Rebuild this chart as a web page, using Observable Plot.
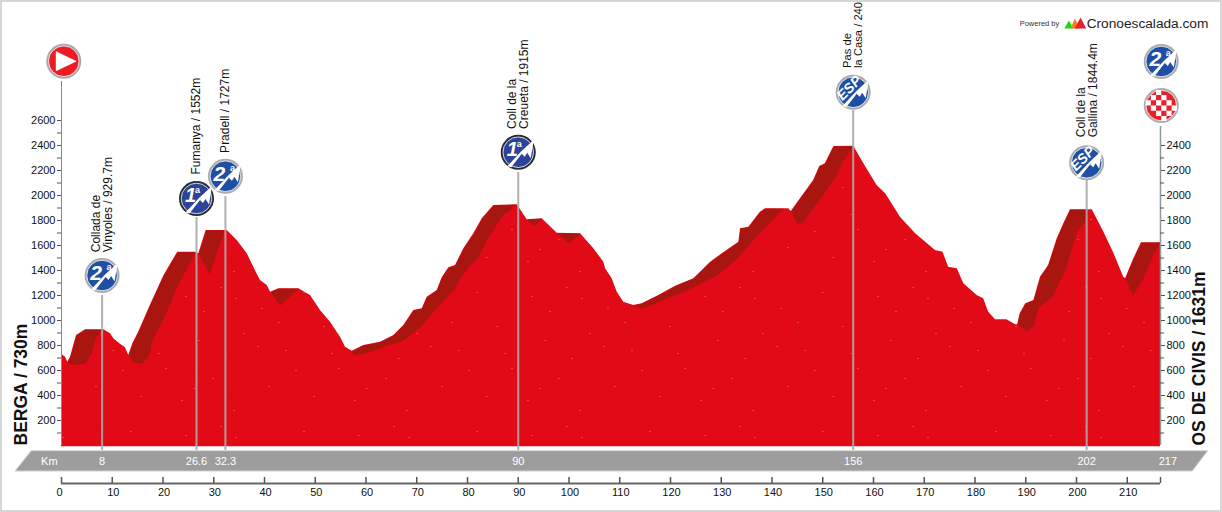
<!DOCTYPE html>
<html><head><meta charset="utf-8">
<style>html,body{margin:0;padding:0;background:#fff}</style>
<script src="https://cdn.jsdelivr.net/npm/d3@7"></script>
<script src="https://cdn.jsdelivr.net/npm/@observablehq/plot@0.6"></script>
</head><body>
<script>
const FONT = "'Liberation Sans', Arial, sans-serif";
// Elevation profile (km, metres)
const profileKm = [0,0.8,1.24,1.77,2.96,4.73,8.33,9.66,10.3,11.5,12.6,13.26,14.05,15.2,17.5,20.2,22.9,26.4,27.05,28.5,32.65,34.62,36.6,38.2,39.2,40.53,41.2,42.82,46.76,49.06,51.03,53,54.97,55.96,57.28,59.57,62.86,65.48,67.45,69.42,71.07,72.06,74.03,75.01,76.32,77.64,79.27,81.24,82.9,85.18,89.8,91.76,94.72,97.68,102.27,104.89,106.86,107.2,108.5,109.5,110.8,112.77,114.4,117.7,120.99,124.6,127.9,130.2,133.46,133.8,135.43,137.7,138.7,143.3,143.8,145.6,148.2,149.4,150.5,152.2,156.1,158.1,160.7,162.4,165.3,168.3,172.2,173.7,174.8,176.5,177.8,180.4,181.7,182.7,184.05,186.3,188,188.4,188.9,190,191.6,192.9,194.5,196.2,197.5,198.8,203.1,205.4,207.4,209.3,209.66,211.3,212.8,216.55];
const profileElev = [730,706,666,706,880,926,926,894,854,814,782,720,814,906,1120,1360,1546,1546,1534,1720,1720,1640,1534,1400,1320,1280,1226,1254,1254,1200,1080,986,866,786,754,800,826,880,960,1080,1094,1186,1240,1342,1422,1440,1574,1694,1814,1920,1926,1806,1814,1698,1694,1574,1466,1414,1334,1226,1146,1120,1134,1200,1274,1334,1466,1534,1626,1734,1746,1866,1894,1894,1872,1974,2120,2232,2254,2392,2394,2254,2080,2014,1826,1694,1560,1546,1426,1414,1294,1200,1174,1066,1006,1006,966,966,1054,1134,1160,1346,1440,1654,1774,1886,1886,1706,1534,1346,1334,1494,1622,1622];
// Lower edges of the dark climb shading: [km, metres]; the upper edge follows the profile
const climbEdge1 = [[1.24,654],[2.76,646],[4.73,654],[6.05,746],[6.7,854],[8.02,926]];
const climbEdge2 = [[13.26,720],[14.13,666],[15.9,654],[17.54,734],[17.67,814],[20.16,1014],[22.8,1266],[26.07,1520],[26.4,1546]];
const climbEdge3 = [[27.05,1534],[29.16,1368],[32.18,1720]];
const climbEdge4 = [[41.2,1226],[43.15,1120],[44.14,1160],[46.76,1254]];
const climbEdge5 = [[57.28,754],[57.6,720],[60.9,746],[64.18,800],[66.8,826],[68.77,880],[70.74,946],[72.7,1040],[75,1146],[77.3,1240],[78.6,1334],[80.26,1426],[82.2,1506],[84.2,1666],[86.5,1814],[89.46,1926]];
const climbEdge6 = [[91.76,1806],[93.07,1752],[94.72,1814]];
const climbEdge7 = [[97.68,1698],[99.96,1618],[102.27,1694]];
const climbEdge8 = [[112.77,1120],[114.4,1094],[119.35,1174],[124.6,1266],[129.2,1360],[133.14,1494],[137.7,1706],[140.4,1814],[142.3,1894]];
const climbEdge9 = [[143.8,1872],[144.96,1774],[145.95,1778],[148.9,1934],[152.5,2146],[154.1,2280],[156.1,2394]];
const climbEdge10 = [[188.4,966],[190.3,912],[191.6,960],[192.6,1106],[195.2,1186],[197.8,1400],[200.1,1706],[202.1,1814],[202.2,1886]];
const climbEdge11 = [[209.66,1334],[211.1,1200],[213,1320],[215.26,1534],[216.55,1622]];
const climbEdges = [climbEdge1,climbEdge2,climbEdge3,climbEdge4,climbEdge5,climbEdge6,climbEdge7,climbEdge8,climbEdge9,climbEdge10,climbEdge11];
// Passes
const passKm = [8,26.6,32.3,90,156,202];
const passPoleTop = [1200,1824,1992,2184,2680,2120];
const passNames = ["Collada de\nVinyoles / 929.7m","Fumanya / 1552m","Pradell / 1727m","Coll de la\nCreueta / 1915m","Pas de\nla Casa / 240","Coll de la\nGallina / 1844.4m"];
const passNameBase = [1546,2168,2341,2533,3021,2466];
const passNameSize = [12,12,12,12,11.2,12];
const passBadgeElev = [1360,1976,2154,2346,2826,2262];
const passCategory = ["2ª","1ª","2ª","1ª","ESP","ESP"];
// Kilometre band
const bandLabels = ["8","26.6","32.3","90","156","202","217"];
const bandKm = [8,26.6,32.3,90,156,202,218];
const kmTicks = d3.range(0,220,10);
const endKm = 216.55;
const leftMajor = d3.range(200,2700,200);
const leftMinor = d3.range(100,2600,200);
const rightMajor = d3.range(200,2500,200);
const rightMinor = d3.range(100,2400,200);
// Credit logo peaks
const logoPeaks = [
  {id:"g",fill:"#18d818",km:[197.6,198.5,199.4],elev:[3336,3400,3336]},
  {id:"o",fill:"#f58220",km:[198.8,199.7,200.6],elev:[3336,3416,3336]},
  {id:"r",fill:"#e8202c",km:[199.6,200.8,201.9],elev:[3336,3424,3336]}
];

const profile = profileKm.map((km,i)=>({km,elev:profileElev[i]}));
const climbs = climbEdges.flatMap((edge,id)=>{
  const a = edge[0][0], b = edge[edge.length-1][0];
  const top = profile.filter(d=>d.km>=a && d.km<=b).map(d=>({id,km:d.km,elev:d.elev}));
  const low = edge.map(([km,elev])=>({id,km,elev})).reverse();
  return [...top,...low];
});
const passes = passKm.map((km,i)=>({km,top:passPoleTop[i],name:passNames[i],base:passNameBase[i],size:passNameSize[i],badge:passBadgeElev[i],cat:passCategory[i]}));
const bandShape = [{elev:-48,a:-5.9,b:225.9},{elev:-208,a:-9.06,b:222.9}];
const logoRows = logoPeaks.flatMap(p=>p.km.map((km,i)=>({id:p.id,fill:p.fill,km,elev:p.elev[i]})));

const mountain = {draw(c){
  c.moveTo(-11,14);c.lineTo(3,-1);c.lineTo(15.5,-12.5);c.lineTo(12.5,6);c.lineTo(9,0.5);c.lineTo(6.5,4.5);c.lineTo(3.5,1.5);c.lineTo(-7,15);c.closePath();
}};
const playArrow = {draw(c){c.moveTo(-8,-10);c.lineTo(13,0);c.lineTo(-8,10);c.closePath();}};
const checker = {draw(c){
  const s=5.2;
  for(let i=-3;i<=2;i++)for(let j=-3;j<=2;j++){
    if((i+j+6)%2) continue;
    const x=i*s,y=j*s;
    if(Math.hypot(x+s/2,y+s/2)>14) continue;
    c.moveTo(x,y);c.lineTo(x+s,y);c.lineTo(x+s,y+s);c.lineTo(x,y+s);c.closePath();
  }
}};
const ringColor = d=>d.cat==="1ª"?"#2a2a2a":"#ababab";
const discColor = d=>d.cat==="1ª"?"#2c439c":"#1f4fa5";

const svg = Plot.plot({
  width:1222,height:512,
  marginLeft:61,marginRight:62,marginTop:0,marginBottom:29,
  x:{domain:[0,endKm],range:[61,1160],axis:null},
  y:{domain:[0,2600],range:[445,120]},
  style:{fontFamily:FONT,fontSize:"11px",color:"#111",background:"#fff",outline:"2px solid #d6d6d6",outlineOffset:"-2px",overflow:"hidden"},
  marks:[
    // gray km band
    Plot.areaX(bandShape,{y:"elev",x1:"a",x2:"b",fill:"#9d9d9d",stroke:"#cfcfcf",strokeWidth:1}),
    // profile
    Plot.areaY(profile,{x:"km",y1:()=>-10,y2:"elev",fill:"url(#speck)"}),
    Plot.line(climbs,{x:"km",y:"elev",z:"id",fill:"#a8160f",stroke:"none"}),
    // vertical axes lines
    Plot.ruleX([0],{y1:0,y2:2912,stroke:"#8a8a8a",strokeWidth:1}),
    Plot.ruleX([endKm],{y1:0,y2:2552,stroke:"#8f9a9a",strokeWidth:1.5}),
    Plot.axisY({anchor:"left",ticks:leftMajor,tickFormat:"d",tickSize:4,tickPadding:2,label:null,fontSize:11,stroke:"#555",color:"#111"}),
    Plot.axisY({anchor:"right",ticks:rightMajor,tickFormat:"d",tickSize:4,tickPadding:2,label:null,fontSize:11,stroke:"#555",color:"#111"}),
    Plot.ruleY(leftMinor,{x1:-0.8,x2:0,stroke:"#555"}),
    Plot.ruleY(rightMinor,{x1:endKm,x2:endKm+0.8,stroke:"#555"}),
    // poles
    Plot.ruleX(passes,{x:"km",y1:-40,y2:"top",stroke:"#a9a9a9",strokeWidth:2,strokeOpacity:0.92}),
    // band labels
    Plot.text(["Km"],{x:()=>-2.4,y:()=>-128,text:d=>d,fill:"#fff",fontSize:11}),
    Plot.text(bandLabels,{x:(d,i)=>bandKm[i],y:()=>-128,text:d=>d,fill:"#fff",fontSize:11}),
    // bottom km axis
    Plot.ruleY([-304],{x1:0,x2:endKm,stroke:"#666",strokeWidth:2}),
    Plot.ruleX([...kmTicks,endKm],{y1:-304,y2:-256,stroke:"#555",strokeWidth:1.5}),
    Plot.text(kmTicks.slice(0,1),{x:d=>d,y:()=>-376,text:d=>String(d),dx:-2,fontSize:11,fill:"#111"}),
    Plot.text(kmTicks.slice(1),{x:d=>d,y:()=>-376,text:d=>String(d),dx:1,fontSize:11,fill:"#111"}),
    // place titles
    Plot.text(["BERGA / 730m"],{x:()=>-8,y:()=>0,text:d=>d,rotate:-90,textAnchor:"start",fontSize:17.5,fontWeight:"bold",fill:"#111"}),
    Plot.text(["OS DE CIVIS / 1631m"],{x:()=>224.3,y:()=>0,text:d=>d,rotate:-90,textAnchor:"start",fontSize:17.5,fontWeight:"bold",fill:"#111"}),
    // pass names
    Plot.text(passes,{x:"km",y:"base",text:"name",rotate:-90,textAnchor:"start",lineAnchor:"middle",fontSize:"size",lineHeight:1,fill:"#111"}),
    // pass badges
    Plot.dot(passes,{x:"km",y:"badge",r:17.5,fill:ringColor,stroke:"none"}),
    Plot.dot(passes,{x:"km",y:"badge",r:15.3,fill:discColor,stroke:"#fff",strokeWidth:0.8}),
    Plot.dot(passes,{x:"km",y:"badge",r:1,symbol:mountain,fill:"#fff",stroke:"none"}),
    Plot.text(passes.filter(d=>d.cat==="2ª"),{x:"km",y:"badge",text:()=>"2",dx:-6,dy:-2,fontSize:21,fontWeight:"bold",fontStyle:"italic",fill:"#fff"}),
    Plot.text(passes.filter(d=>d.cat==="2ª"),{x:"km",y:"badge",text:()=>"a",dx:7,dy:-8,fontSize:9,fontWeight:"bold",fill:"#fff"}),
    Plot.text(passes.filter(d=>d.cat==="1ª"),{x:"km",y:"badge",text:()=>"1",dx:-6,dy:-3,fontSize:20,fontWeight:"bold",fontStyle:"italic",fill:"#fff"}),
    Plot.text(passes.filter(d=>d.cat==="1ª"),{x:"km",y:"badge",text:()=>"a",dx:1,dy:-8,fontSize:9,fontWeight:"bold",fill:"#fff"}),
    Plot.text(passes.filter(d=>d.cat==="ESP"),{x:"km",y:"badge",text:()=>"ESP",dx:-4,dy:-4,rotate:-45,fontSize:14,fontWeight:"bold",fontStyle:"italic",fill:"#fff"}),
    // start
    Plot.dot([0.45],{x:d=>d,y:()=>3074,r:17.5,fill:"#a8a8a8",stroke:"none"}),
    Plot.dot([0.45],{x:d=>d,y:()=>3074,r:15.3,fill:"#ed1c24",stroke:"#fff",strokeWidth:0.8}),
    Plot.dot([0.45],{x:d=>d,y:()=>3074,r:1,symbol:playArrow,fill:"#fff",stroke:"none"}),
    // finish: climb badge + chequered flag
    Plot.dot([216.7],{x:d=>d,y:()=>3072,r:17.5,fill:"#ababab",stroke:"none"}),
    Plot.dot([216.7],{x:d=>d,y:()=>3072,r:15.3,fill:"#1f4fa5",stroke:"#fff",strokeWidth:0.8}),
    Plot.dot([216.7],{x:d=>d,y:()=>3072,r:1,symbol:mountain,fill:"#fff",stroke:"none"}),
    Plot.text(["2"],{x:()=>216.7,y:()=>3072,text:d=>d,dx:-6,dy:-2,fontSize:21,fontWeight:"bold",fontStyle:"italic",fill:"#fff"}),
    Plot.text(["a"],{x:()=>216.7,y:()=>3072,text:d=>d,dx:7,dy:-8,fontSize:9,fontWeight:"bold",fill:"#fff"}),
    Plot.dot([216.7],{x:d=>d,y:()=>2720,r:17.5,fill:"#ababab",stroke:"none"}),
    Plot.dot([216.7],{x:d=>d,y:()=>2720,r:15.3,fill:"#e8202c",stroke:"#fff",strokeWidth:0.8}),
    Plot.dot([216.7],{x:d=>d,y:()=>2720,r:1,symbol:checker,fill:"#fff",stroke:"none"}),
    // credit
    Plot.text(["Powered by"],{x:()=>188.8,y:()=>3376,text:d=>d,textAnchor:"start",fontSize:7.5,fill:"#333"}),
    Plot.line(logoRows,{x:"km",y:"elev",z:"id",fill:"fill",stroke:"none"}),
    Plot.text(["Cronoescalada.com"],{x:()=>202,y:()=>3376,text:d=>d,textAnchor:"start",fontSize:13.7,fill:"#222"})
  ]
});
// Surface speckle of the profile, as a fill pattern
const specksLight = [[12,18],[47,9],[88,30],[130,14],[25,62],[70,55],[112,72],[150,48],[39,100],[95,108],[140,118],[8,122],[60,132],[165,90],[30,33],[62,20],[105,44],[158,75],[52,80],[84,68],[122,92],[20,110]];
const specksDark = [[33,40],[105,52],[75,92],[152,20],[18,95],[128,100],[55,118],[96,12]];
const defs = d3.select(svg).insert("defs",":first-child");
const pat = defs.append("pattern").attr("id","speck").attr("patternUnits","userSpaceOnUse").attr("width",173).attr("height",139);
pat.append("rect").attr("width",173).attr("height",139).attr("fill","#e30a17");
specksLight.forEach(([x,y])=>pat.append("rect").attr("x",x).attr("y",y).attr("width",2).attr("height",1).attr("fill","#f25a5a").attr("opacity",0.7));
specksDark.forEach(([x,y])=>pat.append("rect").attr("x",x).attr("y",y).attr("width",2).attr("height",1).attr("fill","#a81216").attr("opacity",0.6));
document.body.appendChild(svg);
</script>
</body></html>
